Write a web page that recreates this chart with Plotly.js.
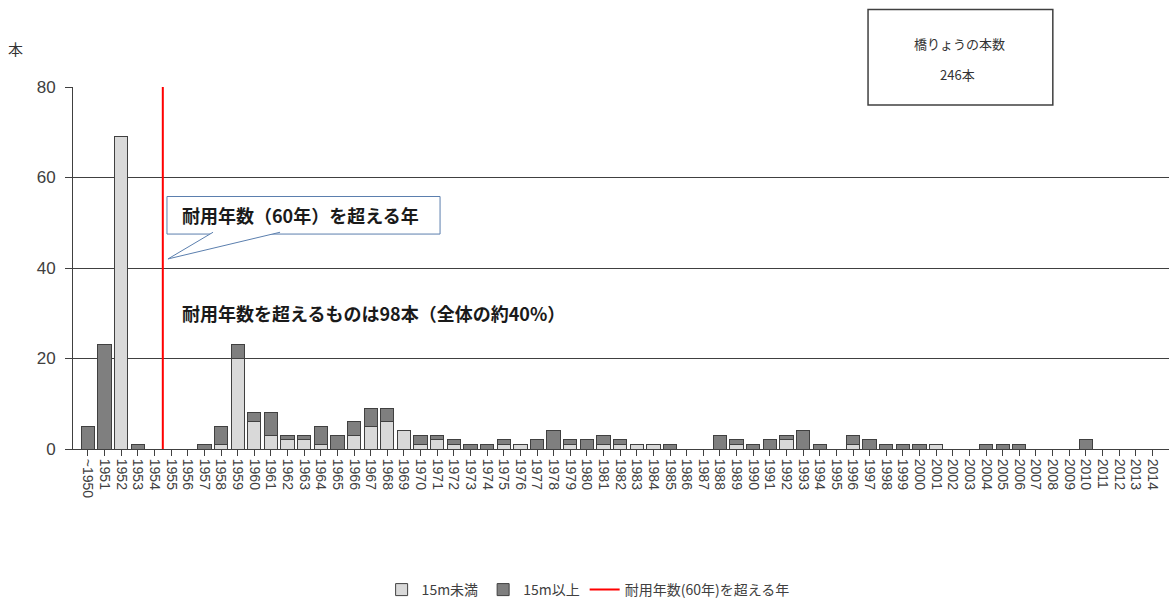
<!DOCTYPE html>
<html>
<head>
<meta charset="utf-8">
<script src="https://cdn.plot.ly/plotly-3.0.1.min.js"></script>
<style>html,body{margin:0;padding:0;background:#fff;}#chart{width:1169px;height:606px;}</style>
</head>
<body>
<div id="chart"></div>
<script>
var categories = ['~1950','1951','1952','1953','1954','1955','1956','1957','1958','1959',
  '1960','1961','1962','1963','1964','1965','1966','1967','1968','1969',
  '1970','1971','1972','1973','1974','1975','1976','1977','1978','1979',
  '1980','1981','1982','1983','1984','1985','1986','1987','1988','1989',
  '1990','1991','1992','1993','1994','1995','1996','1997','1998','1999',
  '2000','2001','2002','2003','2004','2005','2006','2007','2008','2009',
  '2010','2011','2012','2013','2014'];
var under15m = [0,0,69,0,0,0,0,0,1,20,
  6,3,2,2,1,0,3,5,6,4,
  1,2,1,0,0,1,1,0,0,1,
  0,1,1,1,1,0,0,0,0,1,
  0,0,2,0,0,0,1,0,0,0,
  0,1,0,0,0,0,0,0,0,0,
  0,0,0,0,0];
var over15m = [5,23,0,1,0,0,0,1,4,3,
  2,5,1,1,4,3,3,4,3,0,
  2,1,1,1,1,1,0,2,4,1,
  2,2,1,0,0,1,0,0,3,1,
  1,2,1,4,1,0,2,2,1,1,
  1,0,0,0,1,1,1,0,0,0,
  2,0,0,0,0];
var limitPosition = 4.5; // boundary between 1954 and 1955
var limitRange = [0, 80];
var seriesNames = ['15m未満', '15m以上', '耐用年数(60年)を超える年'];

var idx = categories.map(function(_, i){ return i; });
var cjk = '"Noto Sans CJK JP", "Liberation Sans", sans-serif';
var lat = '"Liberation Sans", Arial, sans-serif';
var edge = '#404040';

var traces = [
  {type:'bar', name:seriesNames[0], x:idx, y:under15m,
   marker:{color:'#d9d9d9', line:{color:edge, width:1}}},
  {type:'bar', name:seriesNames[1], x:idx, y:over15m,
   marker:{color:'#7f7f7f', line:{color:edge, width:1}}},
  {type:'scatter', mode:'lines', name:seriesNames[2],
   x:[limitPosition, limitPosition], y:limitRange,
   line:{color:'#ff0000', width:2}, hoverinfo:'skip'}
];

var layout = {
  width:1169, height:606,
  margin:{l:73, r:0, t:87, b:155},
  paper_bgcolor:'#fff', plot_bgcolor:'#fff',
  barmode:'stack', bargap:0.2,
  font:{family:lat, color:'#404040'},
  xaxis:{range:[-0.9, 65.0], tickvals:idx, ticktext:categories, tickangle:90,
    tickfont:{size:14, color:'#404040', family:lat},
    showgrid:false, zeroline:false, showline:true, linecolor:edge, linewidth:1,
    ticks:'outside', ticklen:6, tickcolor:edge},
  yaxis:{range:[0,80], dtick:20, tickfont:{size:17, color:'#404040', family:lat},
    showgrid:true, gridcolor:edge, gridwidth:1, zeroline:false,
    showline:true, linecolor:edge, linewidth:1,
    ticks:'outside', ticklen:7, tickcolor:edge, ticklabelstandoff:6},
  legend:{orientation:'h', x:0.47, xanchor:'center', y:-0.39, yanchor:'middle',
    font:{size:14, family:cjk, color:'#404040'}, traceorder:'normal'},
  showlegend:true,
  shapes:[
    {type:'rect', xref:'x', yref:'y', x0:4.75, x1:21.17, y0:47.5, y1:55.8,
     line:{color:'#5b7fae', width:1}, fillcolor:'#ffffff', layer:'above'},
    {type:'path', xref:'x', yref:'y', path:'M 7.52,47.9 L 4.81,42.0 L 11.55,47.9',
     line:{color:'#5b7fae', width:1}, fillcolor:'#ffffff', layer:'above'},
    {type:'rect', xref:'paper', yref:'paper', x0:0.7254, x1:0.894, y0:0.9505, y1:1.214,
     line:{color:'#404040', width:1.5}, fillcolor:'#ffffff', layer:'above'}
  ],
  annotations:[
    {xref:'x', yref:'y', x:5.55, y:51.65, xanchor:'left', yanchor:'middle', showarrow:false,
     text:'<b>耐用年数（60年）を超える年</b>', font:{size:18, family:cjk, color:'#1a1a1a'}},
    {xref:'x', yref:'y', x:5.55, y:30.1, xanchor:'left', yanchor:'middle', showarrow:false,
     text:'<b>耐用年数を超えるものは98本（全体の約40%）</b>', font:{size:18, family:cjk, color:'#1a1a1a'}},
    {xref:'paper', yref:'paper', x:0.809, y:(451-43)/364, xanchor:'center', yanchor:'middle', showarrow:false,
     text:'橋りょうの本数', font:{size:13, family:cjk, color:'#333'}},
    {xref:'paper', yref:'paper', x:0.807, y:(451-74)/364, xanchor:'center', yanchor:'middle', showarrow:false,
     text:'246本', font:{size:13, family:cjk, color:'#333'}},
    {xref:'paper', yref:'paper', x:(15-73)/1096, y:(451-48)/364, xanchor:'center', yanchor:'middle', showarrow:false,
     text:'本', font:{size:15, family:cjk, color:'#333'}}
  ]
};

Plotly.newPlot('chart', traces, layout, {displayModeBar:false, staticPlot:true});
</script>
</body>
</html>
